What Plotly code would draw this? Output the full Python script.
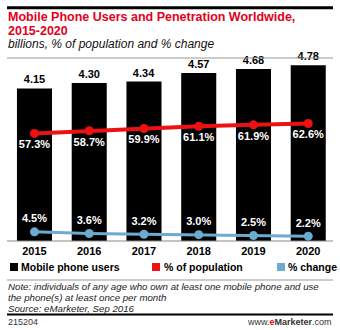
import plotly.graph_objects as go

# Data
years = ["2015", "2016", "2017", "2018", "2019", "2020"]
users_bn = [4.15, 4.30, 4.34, 4.57, 4.68, 4.78]
pct_population = [57.3, 58.7, 59.9, 61.1, 61.9, 62.6]
pct_change = [4.5, 3.6, 3.2, 3.0, 2.5, 2.2]

W, H = 340, 330
RED = "#ee1111"
TITLE_RED = "#e3001b"
BLUE = "#6aabcf"
FONT = "Liberation Sans, Arial, sans-serif"


def px(x):
    return x / W


def py(y):
    return 1 - y / H


fig = go.Figure()

fig.add_trace(go.Bar(
    x=years, y=users_bn, marker_color="#000000", marker_line_width=0,
    text=[f"{v:.2f}" for v in users_bn], textposition="outside",
    textfont=dict(family=FONT, size=11, color="#000000"),
    texttemplate="<b>%{text}</b>", cliponaxis=False, showlegend=False,
    hoverinfo="skip",
))

fig.add_trace(go.Scatter(
    x=years, y=pct_population, yaxis="y2", mode="lines+markers+text",
    line=dict(color=RED, width=4), marker=dict(color=RED, size=9),
    text=[f"<b>{v:.1f}%</b>" for v in pct_population], textposition="bottom center",
    textfont=dict(family=FONT, size=11, color="#ffffff"),
    cliponaxis=False, showlegend=False, hoverinfo="skip",
))

fig.add_trace(go.Scatter(
    x=years, y=pct_change, yaxis="y2", mode="lines+markers+text",
    line=dict(color=BLUE, width=3), marker=dict(color=BLUE, size=9),
    text=[f"<b>{v:.1f}%</b>" for v in pct_change], textposition="top center",
    textfont=dict(family=FONT, size=11, color="#ffffff"),
    cliponaxis=False, showlegend=False, hoverinfo="skip",
))

plot_top, plot_bottom = 58, 241
plot_h = plot_bottom - plot_top

fig.update_layout(
    width=W, height=H,
    margin=dict(l=0, r=0, t=0, b=0),
    paper_bgcolor="#ffffff", plot_bgcolor="#ffffff",
    bargap=0.36,
    font=dict(family=FONT, color="#000000"),
    xaxis=dict(
        domain=[px(7.1), px(335.6)], range=[-0.5, 5.5],
        showgrid=False, zeroline=False, showline=False, ticks="",
        tickfont=dict(family=FONT, size=11, color="#000000"),
        tickvals=years, ticktext=[f"<b>{y}</b>" for y in years],
        ticklabelstandoff=2, fixedrange=True,
    ),
    yaxis=dict(
        domain=[py(plot_bottom), py(plot_top)], range=[0, plot_h / 36.75],
        showgrid=False, zeroline=False, showticklabels=False, visible=False,
    ),
    yaxis2=dict(
        overlaying="y", range=[-0.4, plot_h / 1.865 - 0.4],
        showgrid=False, zeroline=False, showticklabels=False, visible=False,
    ),
)

shapes = [
    # top rule
    dict(type="line", xref="paper", yref="paper", x0=px(7), x1=px(333),
         y0=py(7.8), y1=py(7.8), line=dict(color="#000000", width=3)),
    # under subtitle
    dict(type="line", xref="paper", yref="paper", x0=px(7), x1=px(333),
         y0=py(58), y1=py(58), line=dict(color="#999999", width=1)),
    # baseline
    dict(type="line", xref="paper", yref="paper", x0=px(7), x1=px(333),
         y0=py(241), y1=py(241), line=dict(color="#888888", width=1)),
    # above notes
    dict(type="line", xref="paper", yref="paper", x0=px(7), x1=px(333),
         y0=py(280), y1=py(280), line=dict(color="#999999", width=1)),
    # footer rule
    dict(type="line", xref="paper", yref="paper", x0=px(7), x1=px(333),
         y0=py(314.5), y1=py(314.5), line=dict(color="#000000", width=2)),
]

# legend swatches
for x0, col in [(10, "#000000"), (152, RED), (277, BLUE)]:
    shapes.append(dict(type="rect", xref="paper", yref="paper",
                       x0=px(x0), x1=px(x0 + 8), y0=py(271), y1=py(263),
                       fillcolor=col, line=dict(width=0)))

fig.update_layout(shapes=shapes)

ann = []


def text(x, y, s, size, color="#000000", anchor="left", **kw):
    ann.append(dict(xref="paper", yref="paper", x=px(x), y=py(y), text=s,
                    showarrow=False, xanchor=anchor, yanchor="middle",
                    font=dict(family=FONT, size=size, color=color), **kw))


text(6, 16.6, "<b>Mobile Phone Users and Penetration Worldwide,</b>", 12.5, TITLE_RED)
text(6, 30.8, "<b>2015-2020</b>", 12.5, TITLE_RED)
text(6, 44, "<i>billions, % of population and % change</i>", 12, "#111111")

text(18.5, 267, "<b>Mobile phone users</b>", 10.5)
text(161.5, 267, "<b>% of population</b>", 10.5)
text(285.5, 267, "<b>% change</b>", 10.5)

text(6, 286.8, "<i>Note: individuals of any age who own at least one mobile phone and use</i>", 9.7, "#222222")
text(6, 297.7, "<i>the phone(s) at least once per month</i>", 9.7, "#222222")
text(6, 308.6, "<i>Source: eMarketer, Sep 2016</i>", 9.7, "#222222")

text(6, 322, "215204", 9, "#333333")
text(334, 322, "www.<span style='color:#e3001b'><b>e</b></span><b>Marketer</b>.com", 9,
     "#333333", anchor="right")

fig.update_layout(annotations=ann)

fig.write_html("out.html")
